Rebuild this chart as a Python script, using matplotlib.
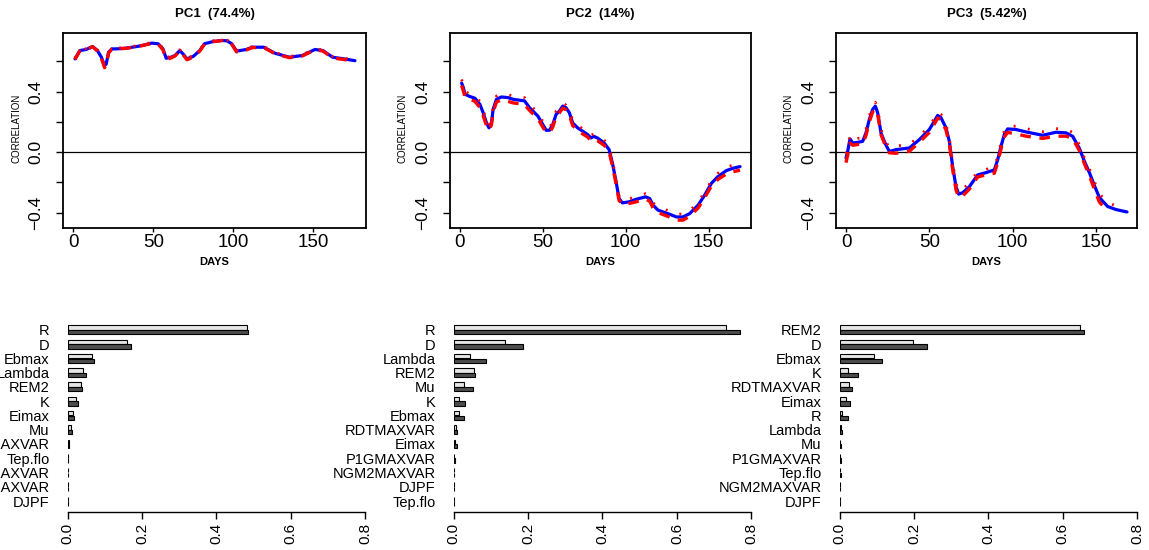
import numpy as np
import matplotlib
matplotlib.use("Agg")
import matplotlib.pyplot as plt

plt.rcParams['font.family'] = ['Liberation Sans', 'DejaVu Sans']
nan = np.nan

# ---------------- data: top panels (correlation vs days) ----------------
titles = ["PC1  (74.4%)", "PC2  (14%)", "PC3  (5.42%)"]

x1 = [1, 4, 8, 12, 15, 17.5, 19.5, 20.5, 22, 24, 27, 33, 41, 49, 53, 56, 58, 61, 63.5,
      66.5, 68.5, 71, 75, 79, 82, 87.5, 93, 96, 99, 102, 108, 112, 119, 126, 135, 143,
      151, 156, 162, 169, 176]
y1_blue = [0.616, 0.671, 0.678, 0.698, 0.671, 0.627, 0.571, 0.582, 0.66, 0.682, 0.682,
           0.687, 0.70, 0.72, 0.716, 0.682, 0.62, 0.627, 0.638, 0.671, 0.649, 0.616, 0.633,
           0.671, 0.716, 0.731, 0.738, 0.735, 0.716, 0.667, 0.678, 0.693, 0.693, 0.653,
           0.627, 0.638, 0.678, 0.671, 0.627, 0.616, 0.604]
y1_dash = [0.612, 0.668, 0.676, 0.697, 0.668, 0.62, 0.558, 0.575, 0.655, 0.68, 0.681,
           0.686, 0.699, 0.718, 0.713, 0.676, 0.612, 0.622, 0.635, 0.668, 0.644, 0.61, 0.628,
           0.668, 0.714, 0.73, 0.737, 0.733, 0.712, 0.662, 0.675, 0.691, 0.691, 0.65,
           0.624, 0.635, 0.676, 0.668, 0.622, 0.612, 0.600]
y1_dot = [0.622, 0.676, 0.683, 0.703, 0.676, 0.632, 0.577, 0.588, 0.665, 0.687, 0.687,
          0.692, 0.705, 0.725, 0.721, 0.687, 0.626, 0.632, 0.643, 0.676, 0.654, 0.621, 0.638,
          0.676, 0.721, 0.736, 0.743, 0.740, 0.721, 0.672, 0.683, 0.698, 0.698, 0.658,
          0.632, 0.643, 0.683, 0.676, 0.632, 0.621, 0.609]

x2 = [1, 2, 3, 6, 9, 12, 14, 16, 17.5, 19, 20, 22, 25, 29, 32, 39, 42, 47, 50, 52, 54, 56,
      58, 60, 62, 64, 66, 68, 71, 74, 77, 79, 80.7, 83, 87, 90, 92, 94, 96, 98, 102, 106,
      112, 114.5, 116.5, 119.5, 126.5, 130.6, 134.6, 138.6, 143.7, 147.7, 151.7, 155.7,
      160.8, 164.8, 169]
y2_blue = [0.456, 0.427, 0.382, 0.367, 0.356, 0.316, 0.26, 0.193, 0.16, 0.193, 0.282, 0.349,
           0.364, 0.36, 0.349, 0.338, 0.293, 0.238, 0.182, 0.144, 0.144, 0.182, 0.249, 0.271,
           0.304, 0.293, 0.26, 0.193, 0.16, 0.138, 0.116, 0.093, 0.104, 0.093, 0.06, 0.016,
           -0.073, -0.184, -0.307, -0.336, -0.329, -0.313, -0.296, -0.307, -0.351, -0.384,
           -0.411, -0.429, -0.429, -0.407, -0.351, -0.284, -0.207, -0.162, -0.122, -0.107,
           -0.096]
y2_dash = [0.44, 0.405, 0.365, 0.35, 0.335, 0.295, 0.24, 0.175, 0.145, 0.18, 0.265, 0.33,
           0.345, 0.335, 0.325, 0.315, 0.275, 0.22, 0.165, 0.13, 0.13, 0.165, 0.235, 0.26,
           0.29, 0.28, 0.245, 0.175, 0.145, 0.12, 0.1, 0.075, 0.085, 0.075, 0.045, 0.0,
           -0.09, -0.2, -0.32, -0.345, -0.34, -0.33, -0.31, -0.325, -0.37, -0.4, -0.43,
           -0.45, -0.45, -0.425, -0.37, -0.3, -0.225, -0.18, -0.145, -0.13, -0.12]
y2_dot = [0.48, 0.445, 0.40, 0.385, 0.375, 0.335, 0.28, 0.21, 0.175, 0.21, 0.30, 0.37,
          0.385, 0.38, 0.37, 0.36, 0.315, 0.26, 0.2, 0.165, 0.16, 0.2, 0.27, 0.29, 0.325,
          0.31, 0.28, 0.21, 0.175, 0.155, 0.135, 0.11, 0.12, 0.11, 0.08, 0.035, -0.055,
          -0.165, -0.29, -0.32, -0.31, -0.295, -0.275, -0.29, -0.335, -0.365, -0.39, -0.41,
          -0.41, -0.39, -0.33, -0.265, -0.19, -0.14, -0.1, -0.085, -0.075]

x3 = [0, 1, 2.4, 4, 7, 10, 12, 14, 16, 17.6, 19, 21, 23, 24.4, 26, 30, 38, 44, 50, 53, 55,
      57, 60, 62, 64, 66, 67.6, 70, 74, 79, 84, 89, 91, 93, 95, 97, 102, 108, 118, 126, 132,
      136, 140, 143, 146, 149, 152, 157, 162, 168.6]
y3_blue = [-0.04, 0.004, 0.087, 0.06, 0.064, 0.071, 0.127, 0.216, 0.282, 0.304, 0.26, 0.127,
           0.071, 0.038, 0.004, 0.016, 0.027, 0.082, 0.149, 0.204, 0.242, 0.227, 0.16, 0.071,
           -0.096, -0.229, -0.278, -0.269, -0.229, -0.151, -0.136, -0.118, -0.051, 0.038,
           0.116, 0.153, 0.149, 0.133, 0.111, 0.131, 0.127, 0.104, 0.025, -0.06, -0.135,
           -0.22, -0.30, -0.36, -0.38, -0.396]
y3_dash = [-0.07, -0.02, 0.06, 0.045, 0.05, 0.055, 0.11, 0.20, 0.265, 0.285, 0.25, 0.115,
           0.06, 0.03, -0.005, -0.008, 0.005, 0.065, 0.13, 0.185, 0.225, 0.215, 0.145, 0.055,
           -0.115, -0.25, -0.298, -0.29, -0.245, -0.165, -0.15, -0.14, -0.07, 0.02, 0.10,
           0.13, 0.12, 0.105, 0.09, 0.105, 0.105, 0.09, 0.01, -0.075, -0.155, -0.245, -0.33,
           -0.39, nan, nan]
y3_dot = [-0.01, 0.03, 0.11, 0.08, 0.09, 0.095, 0.15, 0.24, 0.31, 0.33, 0.285, 0.15, 0.095,
          0.06, 0.03, 0.04, 0.05, 0.105, 0.17, 0.225, 0.265, 0.25, 0.185, 0.095, -0.07,
          -0.205, -0.255, -0.245, -0.205, -0.13, -0.115, -0.095, -0.03, 0.06, 0.14, 0.175,
          0.17, 0.155, 0.135, 0.155, 0.15, 0.13, 0.05, -0.035, -0.11, -0.195, -0.275,
          -0.335, -0.355, nan]

yticks = [-0.4, -0.2, 0.0, 0.2, 0.4, 0.6]
ytick_labels = ["\u22120.4", "", "0.0", "", "0.4", ""]
xticks = [0, 50, 100, 150]

# ---------------- data: bottom panels (bar charts) ----------------
names1 = ["R", "D", "Ebmax", "Lambda", "REM2", "K", "Eimax", "Mu", "RDTMAXVAR", "Tep.flo",
          "P1GMAXVAR", "NGM2MAXVAR", "DJPF"]
light1 = [0.482, 0.159, 0.065, 0.042, 0.037, 0.023, 0.014, 0.008, 0.003, 0.002, 0.002, 0.002, 0.001]
dark1 = [0.486, 0.170, 0.070, 0.048, 0.039, 0.027, 0.018, 0.012, 0.004, 0.002, 0.002, 0.002, 0.002]

names2 = ["R", "D", "Lambda", "REM2", "Mu", "K", "Ebmax", "RDTMAXVAR", "Eimax", "P1GMAXVAR",
          "NGM2MAXVAR", "DJPF", "Tep.flo"]
light2 = [0.733, 0.139, 0.043, 0.054, 0.027, 0.014, 0.014, 0.005, 0.0045, 0.002, 0.002, 0.002, 0.001]
dark2 = [0.770, 0.185, 0.086, 0.058, 0.052, 0.030, 0.028, 0.009, 0.008, 0.003, 0.002, 0.002, 0.002]

names3 = ["REM2", "D", "Ebmax", "K", "RDTMAXVAR", "Eimax", "R", "Lambda", "Mu", "P1GMAXVAR",
          "Tep.flo", "NGM2MAXVAR", "DJPF"]
light3 = [0.6475, 0.196, 0.091, 0.023, 0.026, 0.018, 0.006, 0.003, 0.002, 0.002, 0.002, 0.002, 0.001]
dark3 = [0.658, 0.235, 0.114, 0.048, 0.032, 0.027, 0.021, 0.007, 0.003, 0.003, 0.003, 0.002, 0.002]

bar_xticks = [0.0, 0.2, 0.4, 0.6, 0.8]
bar_xlabels = ["0.0", "0.2", "0.4", "0.6", "0.8"]

# ---------------- figure ----------------
W, H = 1149, 550
fig = plt.figure(figsize=(W / 100, H / 100), dpi=100)


def rect(l, r, t, b):
    return [l / W, 1 - b / H, (r - l) / W, (b - t) / H]


def px(x, y):
    return x / W, 1 - y / H


top_data = [(x1, y1_blue, y1_dash, y1_dot), (x2, y2_blue, y2_dash, y2_dot),
            (x3, y3_blue, y3_dash, y3_dot)]
top_boxes = [(63, 366), (449.7, 751.3), (836, 1137)]
xlims = [(-6.5, 182.9), (-6.2, 175.8), (-6.0, 174.6)]
ylab_x = [17, 402, 788]

for i in range(3):
    l, r = top_boxes[i]
    ax = fig.add_axes(rect(l, r, 33, 228))
    x, yb, yr, yd = top_data[i]
    ax.axhline(0, color='black', lw=0.9, zorder=1)
    ax.plot(x, yb, color='#0000ff', lw=2.3, solid_capstyle='round', zorder=2)
    ax.plot(x, yr, color='#ff0000', lw=2.4, ls=(0, (3.2, 2.6)), zorder=3)
    ax.plot(x, yd, color='#ff0000', lw=2.0, ls=(0, (0.7, 4.5)), zorder=4)
    ax.set_xlim(*xlims[i])
    ax.set_ylim(-0.502, 0.787)
    ax.set_yticks(yticks)
    ax.set_yticklabels(ytick_labels, rotation=90, va='center', fontsize=12.5)
    ax.set_xticks(xticks)
    ax.set_xticklabels([str(v) for v in xticks], fontsize=13.5)
    ax.tick_params(axis='y', length=5, width=1.0, pad=9)
    ax.tick_params(axis='x', length=3, width=1.0, pad=1)
    for s in ax.spines.values():
        s.set_linewidth(1.3)
    cx = (l + r) / 2
    fig.text(*px(cx, 14), titles[i], ha='center', va='center', fontsize=9.5,
             fontweight='bold')
    fig.text(*px(cx, 262), "DAYS", ha='center', va='center', fontsize=8,
             fontweight='bold')
    fig.text(*px(ylab_x[i], 128), "CORRELATION", ha='center', va='center',
             rotation=90, fontsize=7)

bar_data = [(names1, light1, dark1), (names2, light2, dark2), (names3, light3, dark3)]
bot_boxes = [(67.7, 365), (453.7, 751.3), (839.7, 1137)]

for i in range(3):
    l, r = bot_boxes[i]
    ax = fig.add_axes(rect(l, r, 320, 511.7))
    names, light, dark = bar_data[i]
    pos = -np.arange(len(names))
    ax.barh(pos + 0.16, light, height=0.31, color='#e6e6e6', edgecolor='black', lw=0.8)
    ax.barh(pos - 0.16, dark, height=0.31, color='#4d4d4d', edgecolor='black', lw=0.8)
    ax.set_xlim(0, 0.8)
    ax.set_ylim(-12.75, 0.70)
    for k in ['top', 'right', 'left']:
        ax.spines[k].set_visible(False)
    ax.spines['bottom'].set_linewidth(1.0)
    ax.set_yticks(pos)
    ax.set_yticklabels(names, fontsize=10.5)
    ax.tick_params(axis='y', length=0, pad=13)
    ax.set_xticks(bar_xticks)
    ax.set_xticklabels(bar_xlabels, rotation=90, fontsize=11)
    ax.tick_params(axis='x', length=5, width=1.0, pad=3)

fig.savefig("out.png", dpi=100)
